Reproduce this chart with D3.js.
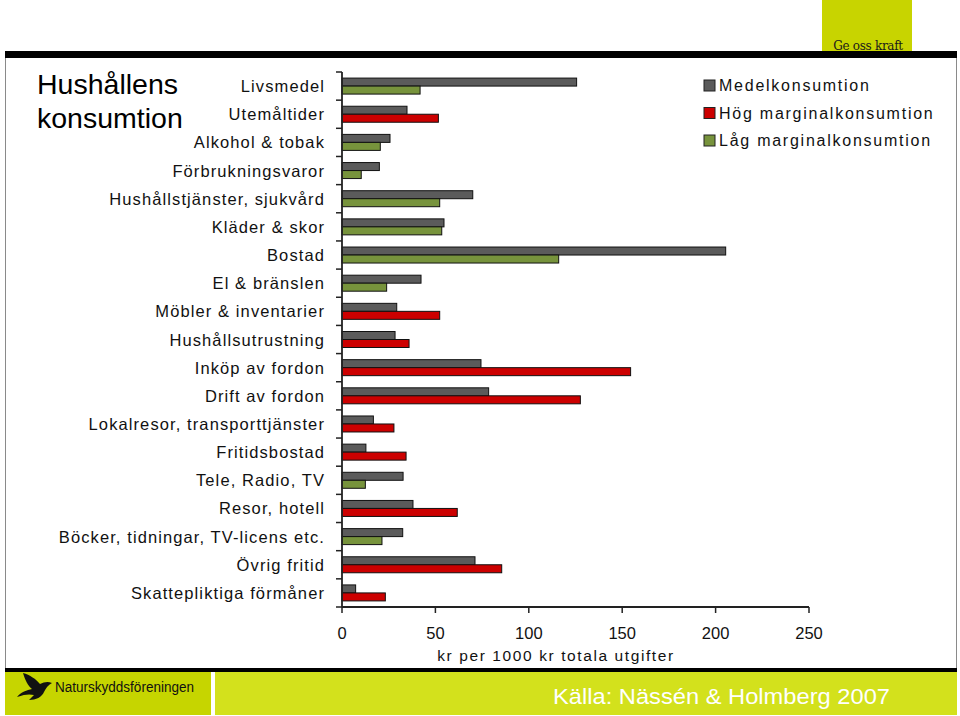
<!DOCTYPE html>
<html>
<head>
<meta charset="utf-8">
<script src="https://cdn.jsdelivr.net/npm/d3@7"></script>
<style>
  html, body { margin: 0; padding: 0; background: #fff; }
  svg { display: block; font-family: "Liberation Sans", Arial, sans-serif; }
</style>
</head>
<body>
<svg id="chart" width="960" height="716"></svg>
<script>
// ---- data ----
const categories = [
  "Livsmedel", "Utemåltider", "Alkohol & tobak", "Förbrukningsvaror",
  "Hushållstjänster, sjukvård", "Kläder & skor", "Bostad", "El & bränslen",
  "Möbler & inventarier", "Hushållsutrustning", "Inköp av fordon", "Drift av fordon",
  "Lokalresor, transporttjänster", "Fritidsbostad", "Tele, Radio, TV", "Resor, hotell",
  "Böcker, tidningar, TV-licens etc.", "Övrig fritid", "Skattepliktiga förmåner"
];
const medelValues = [125.6, 34.8, 25.7, 20.0, 70.0, 54.6, 205.4, 42.3, 29.3, 28.4, 74.4, 78.5, 16.8, 12.8, 32.7, 38.0, 32.5, 71.2, 7.3];
const hogValues   = [null, 51.6, null, null, null, null, null, null, 52.3, 35.9, 154.5, 127.6, 27.8, 34.3, null, 61.7, null, 85.5, 23.2];
const lagValues   = [41.8, null, 20.5, 10.3, 52.3, 53.4, 116.0, 23.9, null, null, null, null, null, null, 12.5, null, 21.4, null, null];
const seriesNames = ["Medelkonsumtion", "Hög marginalkonsumtion", "Låg marginalkonsumtion"];
const xTicks = [0, 50, 100, 150, 200, 250];
const titleLines = ["Hushållens", "konsumtion"];
const axisTitle = "kr per 1000 kr totala utgifter";
const sourceText = "Källa: Nässén & Holmberg 2007";
const orgText = "Naturskyddsföreningen";
const sloganText = "Ge oss kraft";

const colors = { medel: "#5b5b5b", hog: "#cc0000", lag: "#77933c" };
const legendColors = [colors.medel, colors.hog, colors.lag];

const svg = d3.select("#chart");

// ---- frame / decoration ----
svg.append("rect").attr("x", 822).attr("y", 0).attr("width", 90).attr("height", 52).attr("fill", "#c8d400");
svg.append("line").attr("x1", 5.5).attr("x2", 5.5).attr("y1", 56).attr("y2", 670).attr("stroke", "#8a8a8a").attr("stroke-width", 1);
svg.append("line").attr("x1", 956.5).attr("x2", 956.5).attr("y1", 56).attr("y2", 670).attr("stroke", "#8a8a8a").attr("stroke-width", 1);
svg.append("rect").attr("x", 5).attr("y", 51).attr("width", 952).attr("height", 7).attr("fill", "#000");
svg.append("text").attr("x", 868).attr("y", 50).attr("text-anchor", "middle")
  .attr("font-family", "'DejaVu Serif', serif").attr("font-size", 12).attr("letter-spacing", -0.3)
  .attr("fill", "#1a1a1a").text(sloganText);

// bottom band
svg.append("rect").attr("x", 5).attr("y", 668).attr("width", 952).attr("height", 4).attr("fill", "#000");
svg.append("rect").attr("x", 5).attr("y", 672).attr("width", 206).attr("height", 43).attr("fill", "#c6d500");
svg.append("rect").attr("x", 215).attr("y", 672).attr("width", 742).attr("height", 43).attr("fill", "#d3e11c");
svg.append("text").attr("x", 890).attr("y", 704).attr("text-anchor", "end")
  .attr("font-size", 22).attr("fill", "#fff").attr("textLength", 337).attr("lengthAdjust", "spacingAndGlyphs")
  .text(sourceText);
svg.append("text").attr("x", 55).attr("y", 692)
  .attr("font-size", 14).attr("fill", "#111").attr("textLength", 139).attr("lengthAdjust", "spacingAndGlyphs")
  .text(orgText);
// bird logo
svg.append("path")
  .attr("d", "M23,673 C30,675 36,679 40,684 C44,682 48,681 52,683 C48,685 46,688 44,692 C42,697 36,700 29,700 L34,695 C30,694 25,694 17,697 C21,692 27,690 32,689 C28,686 25,680 23,673 Z")
  .attr("fill", "#111");

// title
svg.append("g").selectAll("text").data(titleLines).join("text")
  .attr("x", 37).attr("y", (d, i) => 94 + i * 34)
  .attr("font-size", 28.5).attr("fill", "#000").text(d => d);

// ---- scales ----
const x = d3.scaleLinear().domain([0, 250]).range([342, 809]);
const y = d3.scaleBand().domain(categories).range([72, 607]).paddingInner(0).paddingOuter(0);
const sub = d3.scaleBand().domain(["a", "b"]).range([0, y.bandwidth()]).paddingInner(0).paddingOuter(0.76);

// ---- bars ----
const rows = categories.map((c, i) => ({
  cat: c, medel: medelValues[i],
  second: hogValues[i] != null ? { v: hogValues[i], color: colors.hog } : { v: lagValues[i], color: colors.lag }
}));
const barG = svg.append("g");
barG.selectAll("rect.medel").data(rows).join("rect").attr("class", "medel")
  .attr("x", x(0)).attr("y", d => y(d.cat) + sub("a"))
  .attr("width", d => x(d.medel) - x(0)).attr("height", sub.bandwidth())
  .attr("fill", colors.medel).attr("stroke", "#111").attr("stroke-width", 1);
barG.selectAll("rect.second").data(rows).join("rect").attr("class", "second")
  .attr("x", x(0)).attr("y", d => y(d.cat) + sub("b"))
  .attr("width", d => x(d.second.v) - x(0)).attr("height", sub.bandwidth())
  .attr("fill", d => d.second.color).attr("stroke", "#111").attr("stroke-width", 1);

// ---- y axis ----
const yAxisG = svg.append("g");
yAxisG.append("line").attr("x1", 342).attr("x2", 342).attr("y1", 72).attr("y2", 607).attr("stroke", "#222").attr("stroke-width", 1.8);
const boundaries = categories.map(c => y(c)).concat([y.range()[1]]);
yAxisG.selectAll("line.tick").data(boundaries).join("line").attr("class", "tick")
  .attr("x1", 336).attr("x2", 342).attr("y1", d => d).attr("y2", d => d)
  .attr("stroke", "#222").attr("stroke-width", 1.5);
yAxisG.selectAll("text").data(categories).join("text")
  .attr("x", 325).attr("y", d => y(d) + y.bandwidth() / 2 + 6)
  .attr("text-anchor", "end").attr("font-size", 16.5).attr("letter-spacing", 1.1)
  .attr("fill", "#111").text(d => d);

// ---- x axis ----
const xAxisG = svg.append("g");
xAxisG.append("line").attr("x1", 342).attr("x2", 809).attr("y1", 607).attr("y2", 607).attr("stroke", "#222").attr("stroke-width", 1.8);
xAxisG.selectAll("line.tick").data(xTicks).join("line").attr("class", "tick")
  .attr("x1", d => x(d)).attr("x2", d => x(d)).attr("y1", 607).attr("y2", 613)
  .attr("stroke", "#222").attr("stroke-width", 1.5);
xAxisG.selectAll("text").data(xTicks).join("text")
  .attr("x", d => x(d)).attr("y", 639).attr("text-anchor", "middle")
  .attr("font-size", 16.5).attr("fill", "#111").text(d => d);
svg.append("text").attr("x", 556).attr("y", 661).attr("text-anchor", "middle")
  .attr("font-size", 15.5).attr("letter-spacing", 1.6).attr("fill", "#111").text(axisTitle);

// ---- legend ----
const leg = svg.append("g").selectAll("g").data(seriesNames).join("g")
  .attr("transform", (d, i) => `translate(704, ${91 + i * 27.5})`);
leg.append("rect").attr("x", 0).attr("y", -11).attr("width", 11).attr("height", 11)
  .attr("fill", (d, i) => legendColors[i]).attr("stroke", "#222").attr("stroke-width", 1);
leg.append("text").attr("x", 15).attr("y", 0).attr("font-size", 16).attr("letter-spacing", 1.75)
  .attr("fill", "#111").text(d => d);
</script>
</body>
</html>
